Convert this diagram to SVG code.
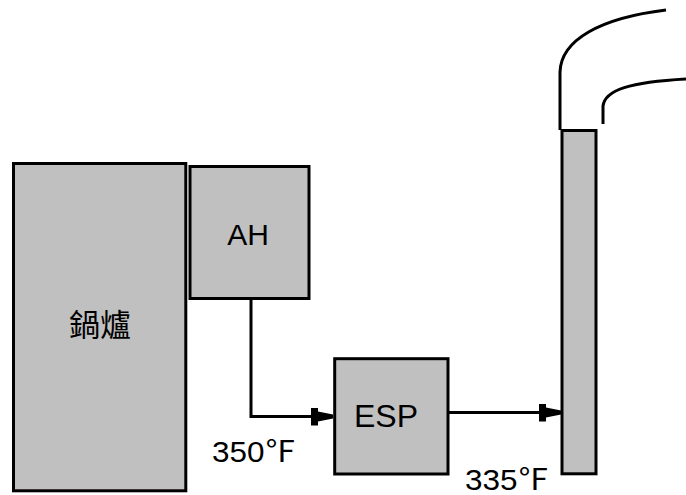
<svg xmlns="http://www.w3.org/2000/svg" width="686" height="495" viewBox="0 0 686 495">
<style>
.box{fill:#c0c0c0;stroke:#000;stroke-width:3}
.ln{fill:none;stroke:#000;stroke-width:3}
.lbl{font-family:"Liberation Sans",Arial,"Noto Sans CJK TC",sans-serif;fill:#000}
</style>
<defs>
<marker id="arr" markerUnits="userSpaceOnUse" markerWidth="24" markerHeight="20" refX="22" refY="9" orient="auto">
<polygon points="0,0 7,0 7,4 22,7 22,11 7,14 7,18 0,18" fill="#000"/>
</marker>
</defs>
<rect width="686" height="495" fill="#fff"/>
<g id="boiler">
<rect class="box" x="13.5" y="163.5" width="172.3" height="327.3"/>
<text class="lbl" x="100" y="336" font-size="31" text-anchor="middle" font-family="'Noto Sans CJK TC',sans-serif">鍋爐</text>
</g>
<g id="ah">
<rect class="box" x="190" y="166.5" width="119" height="132"/>
<text class="lbl" x="248" y="245" font-size="30" text-anchor="middle">AH</text>
</g>
<g id="esp">
<rect class="box" x="334.7" y="358.7" width="113.3" height="115.3"/>
<text class="lbl" x="386" y="427" font-size="32" text-anchor="middle">ESP</text>
</g>
<g id="stack">
<rect class="box" x="562" y="130.5" width="34" height="343.3"/>
<path class="ln" d="M560,130 V72 C561,40 600,18 666,10"/>
<path class="ln" d="M603,124 V106 C605,90 630,82 686,79"/>
</g>
<g id="connectors">
<path class="ln" d="M251,298.5 V416.5 H333" marker-end="url(#arr)"/>
<path class="ln" d="M448,412.5 H561" marker-end="url(#arr)"/>
</g>
<g id="labels">
<text class="lbl" x="212" y="462" font-size="29" textLength="84" lengthAdjust="spacingAndGlyphs">350℉</text>
<text class="lbl" x="465" y="490" font-size="29" textLength="84" lengthAdjust="spacingAndGlyphs">335℉</text>
</g>
</svg>
